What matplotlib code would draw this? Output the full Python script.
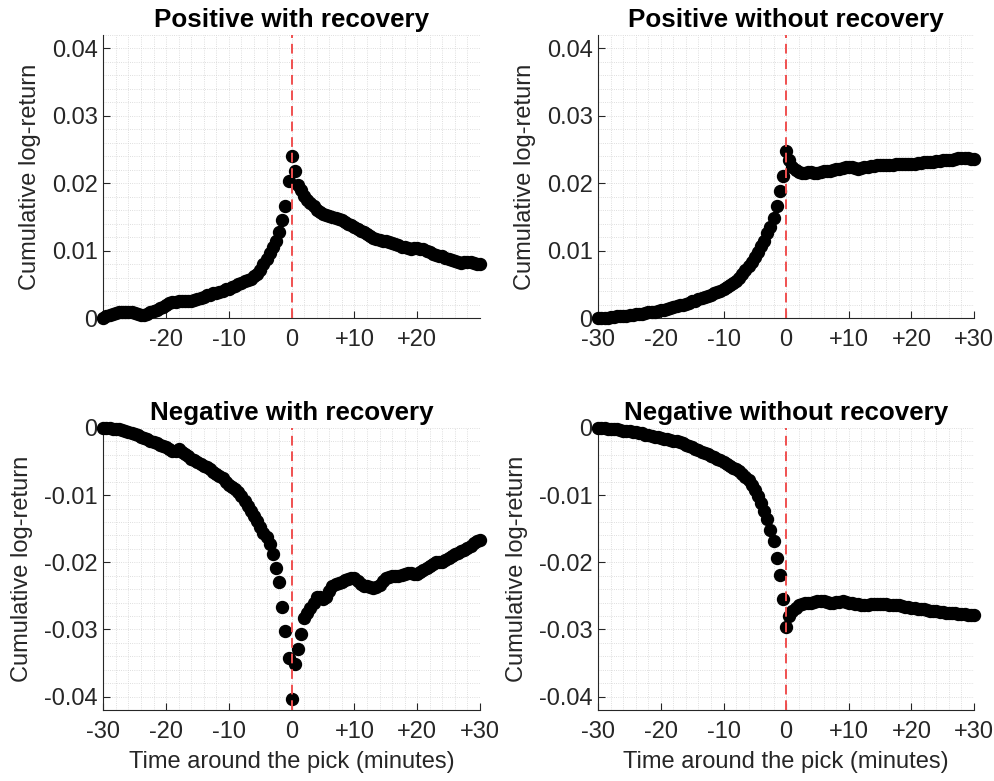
import matplotlib
matplotlib.use('Agg')
import matplotlib.pyplot as plt
import numpy as np
from matplotlib.ticker import MultipleLocator

plt.rcParams['font.family'] = ['Liberation Sans', 'DejaVu Sans']

# time around the pick, one sample every 30 seconds
minutes = np.arange(-30, 30.5, 0.5)

pos_recovery = [
    0.0000, 0.0003, 0.0005, 0.0007, 0.0008, 0.0009, 0.0009, 0.0010, 0.0010, 0.0009,
    0.0008, 0.0006, 0.0005, 0.0005, 0.0007, 0.0009, 0.0011, 0.0013, 0.0015, 0.0017,
    0.0019, 0.0022, 0.0024, 0.0024, 0.0025, 0.0025, 0.0026, 0.0026, 0.0026, 0.0027,
    0.0028, 0.0030, 0.0032, 0.0034, 0.0035, 0.0037, 0.0038, 0.0039, 0.0041, 0.0043,
    0.0044, 0.0046, 0.0048, 0.0051, 0.0053, 0.0055, 0.0057, 0.0059, 0.0062, 0.0066,
    0.0072, 0.0080, 0.0088, 0.0097, 0.0106, 0.0115, 0.0128, 0.0146, 0.0167, 0.0203,
    0.0240,
    0.0218, 0.0198, 0.0190, 0.0182, 0.0176, 0.0171, 0.0166, 0.0161, 0.0158, 0.0155,
    0.0153, 0.0151, 0.0150, 0.0149, 0.0147, 0.0146, 0.0143, 0.0140, 0.0138, 0.0136,
    0.0133, 0.0130, 0.0128, 0.0125, 0.0122, 0.0119, 0.0117, 0.0116, 0.0115, 0.0114,
    0.0113, 0.0112, 0.0110, 0.0108, 0.0106, 0.0105, 0.0104, 0.0103, 0.0104, 0.0104,
    0.0103, 0.0102, 0.0100, 0.0098, 0.0096, 0.0094, 0.0093, 0.0092, 0.0090, 0.0088,
    0.0086, 0.0085, 0.0083, 0.0082, 0.0083, 0.0084, 0.0083, 0.0082, 0.0081, 0.0081,
]

pos_no_recovery = [
    0.0000, 0.0000, 0.0001, 0.0001, 0.0002, 0.0002, 0.0003, 0.0003, 0.0004, 0.0004,
    0.0005, 0.0005, 0.0006, 0.0007, 0.0007, 0.0008, 0.0009, 0.0010, 0.0010, 0.0011,
    0.0012, 0.0013, 0.0014, 0.0016, 0.0017, 0.0018, 0.0019, 0.0020, 0.0021, 0.0023,
    0.0025, 0.0026, 0.0028, 0.0030, 0.0031, 0.0033, 0.0035, 0.0037, 0.0039, 0.0041,
    0.0043, 0.0046, 0.0049, 0.0052, 0.0056, 0.0060, 0.0065, 0.0071, 0.0077, 0.0084,
    0.0091, 0.0099, 0.0107, 0.0115, 0.0126, 0.0136, 0.0149, 0.0167, 0.0189, 0.0211,
    0.0248,
    0.0234, 0.0225, 0.0220, 0.0217, 0.0216, 0.0216, 0.0217, 0.0217, 0.0216, 0.0216,
    0.0217, 0.0218, 0.0218, 0.0219, 0.0220, 0.0221, 0.0222, 0.0223, 0.0224, 0.0224,
    0.0224, 0.0223, 0.0222, 0.0223, 0.0224, 0.0225, 0.0226, 0.0226, 0.0227, 0.0227,
    0.0227, 0.0228, 0.0228, 0.0228, 0.0229, 0.0229, 0.0229, 0.0229, 0.0229, 0.0229,
    0.0229, 0.0230, 0.0230, 0.0231, 0.0231, 0.0232, 0.0232, 0.0233, 0.0233, 0.0234,
    0.0234, 0.0235, 0.0235, 0.0236, 0.0237, 0.0237, 0.0237, 0.0237, 0.0236, 0.0236,
]

neg_recovery = [
    0.0000, 0.0000, 0.0000, -0.0001, -0.0001, -0.0002, -0.0003, -0.0005, -0.0006, -0.0008,
    -0.0009, -0.0011, -0.0013, -0.0015, -0.0017, -0.0019, -0.0021, -0.0023, -0.0025, -0.0027,
    -0.0029, -0.0032, -0.0034, -0.0034, -0.0032, -0.0035, -0.0038, -0.0042, -0.0046, -0.0048,
    -0.0051, -0.0053, -0.0056, -0.0058, -0.0061, -0.0065, -0.0068, -0.0071, -0.0075, -0.0080,
    -0.0085, -0.0088, -0.0091, -0.0095, -0.0101, -0.0108, -0.0116, -0.0123, -0.0131, -0.0139,
    -0.0148, -0.0156, -0.0163, -0.0173, -0.0187, -0.0209, -0.0229, -0.0267, -0.0303, -0.0343,
    -0.0404,
    -0.0351, -0.0329, -0.0307, -0.0283, -0.0276, -0.0268, -0.0260, -0.0251, -0.0251, -0.0254,
    -0.0251, -0.0243, -0.0236, -0.0233, -0.0231, -0.0229, -0.0227, -0.0225, -0.0224, -0.0224,
    -0.0228, -0.0233, -0.0235, -0.0235, -0.0237, -0.0238, -0.0237, -0.0234, -0.0228, -0.0224,
    -0.0222, -0.0221, -0.0221, -0.0220, -0.0219, -0.0218, -0.0216, -0.0216, -0.0217, -0.0218,
    -0.0215, -0.0211, -0.0208, -0.0205, -0.0202, -0.0200, -0.0200, -0.0200, -0.0197, -0.0194,
    -0.0191, -0.0188, -0.0186, -0.0183, -0.0181, -0.0178, -0.0175, -0.0172, -0.0169, -0.0167,
]

neg_no_recovery = [
    0.0000, 0.0000, 0.0000, -0.0001, -0.0001, -0.0002, -0.0002, -0.0003, -0.0004, -0.0005,
    -0.0005, -0.0006, -0.0006, -0.0007, -0.0008, -0.0010, -0.0011, -0.0012, -0.0013, -0.0014,
    -0.0015, -0.0016, -0.0017, -0.0018, -0.0019, -0.0020, -0.0021, -0.0023, -0.0025, -0.0027,
    -0.0029, -0.0031, -0.0033, -0.0035, -0.0037, -0.0039, -0.0041, -0.0043, -0.0046, -0.0048,
    -0.0051, -0.0053, -0.0056, -0.0059, -0.0061, -0.0064, -0.0068, -0.0073, -0.0078, -0.0085,
    -0.0093, -0.0102, -0.0111, -0.0123, -0.0136, -0.0152, -0.0169, -0.0193, -0.0219, -0.0255,
    -0.0297,
    -0.0280, -0.0273, -0.0268, -0.0264, -0.0262, -0.0261, -0.0261, -0.0260, -0.0259, -0.0258,
    -0.0257, -0.0258, -0.0259, -0.0260, -0.0260, -0.0259, -0.0259, -0.0258, -0.0259, -0.0260,
    -0.0261, -0.0262, -0.0262, -0.0263, -0.0263, -0.0263, -0.0262, -0.0262, -0.0262, -0.0262,
    -0.0262, -0.0262, -0.0263, -0.0263, -0.0264, -0.0264, -0.0265, -0.0266, -0.0267, -0.0268,
    -0.0268, -0.0269, -0.0270, -0.0270, -0.0271, -0.0272, -0.0272, -0.0273, -0.0274, -0.0274,
    -0.0275, -0.0275, -0.0276, -0.0276, -0.0277, -0.0277, -0.0277, -0.0278, -0.0278, -0.0278,
]

titles = ['Positive with recovery', 'Positive without recovery',
          'Negative with recovery', 'Negative without recovery']
series = [pos_recovery, pos_no_recovery, neg_recovery, neg_no_recovery]

x_ticks_full = [-30, -20, -10, 0, 10, 20, 30]
x_ticks_short = [-20, -10, 0, 10, 20]
pos_yticks = [0, 0.01, 0.02, 0.03, 0.04]
neg_yticks = [-0.04, -0.03, -0.02, -0.01, 0]


def xlab(v):
    return '0' if v == 0 else ('%+d' % v)


def ylab(v):
    return '0' if v == 0 else ('%g' % v)


fig = plt.figure(figsize=(9.95, 7.81), dpi=100)
W, H = 995.0, 781.0
# axes boxes in pixels: left, top, right, bottom
boxes = [(103.3, 35, 480, 318.3), (598.3, 35, 974, 318.3),
         (103.3, 428, 480, 710), (598.3, 428, 974, 710)]

dark = '#262626'
for i, (box, title, vals) in enumerate(zip(boxes, titles, series)):
    l, t, r, b = box
    ax = fig.add_axes([l / W, 1 - b / H, (r - l) / W, (b - t) / H])
    ax.plot(minutes, vals, 'o', color='black', markersize=8.6, zorder=3, clip_on=False)
    ax.axvline(0, color='#f05050', lw=1.4, ls=(0, (5, 3)), zorder=4)

    ax.set_xlim(-30, 30)
    if i < 2:
        ax.set_ylim(0, 0.042)
        yt = pos_yticks
    else:
        ax.set_ylim(-0.042, 0)
        yt = neg_yticks
    xt = x_ticks_short if i == 0 else x_ticks_full
    ax.set_xticks(xt)
    ax.set_xticklabels([xlab(v) for v in xt])
    ax.set_yticks(yt)
    ax.set_yticklabels([ylab(v) for v in yt])
    ax.xaxis.set_minor_locator(MultipleLocator(2))
    ax.yaxis.set_minor_locator(MultipleLocator(0.002))

    ax.grid(True, which='both', ls=':', color='#d4d4d4', lw=0.6, zorder=0)
    ax.set_axisbelow(True)
    for s in ['top', 'right']:
        ax.spines[s].set_visible(False)
    for s in ['left', 'bottom']:
        ax.spines[s].set_color(dark)
        ax.spines[s].set_linewidth(0.8)
    ax.tick_params(which='major', direction='in', length=5, width=0.8,
                   colors=dark, labelsize=17)
    ax.tick_params(axis='x', which='major', pad=8)
    ax.tick_params(axis='y', which='major', pad=4)
    ax.tick_params(which='minor', length=0)

    ax.set_title(title, fontsize=18.7, fontweight='bold', pad=6)
    ax.set_ylabel('Cumulative log-return', fontsize=17, color=dark, labelpad=8)
    if i >= 2:
        ax.set_xlabel('Time around the pick (minutes)', fontsize=17, color=dark, labelpad=6)

fig.savefig('out.png', dpi=100)
